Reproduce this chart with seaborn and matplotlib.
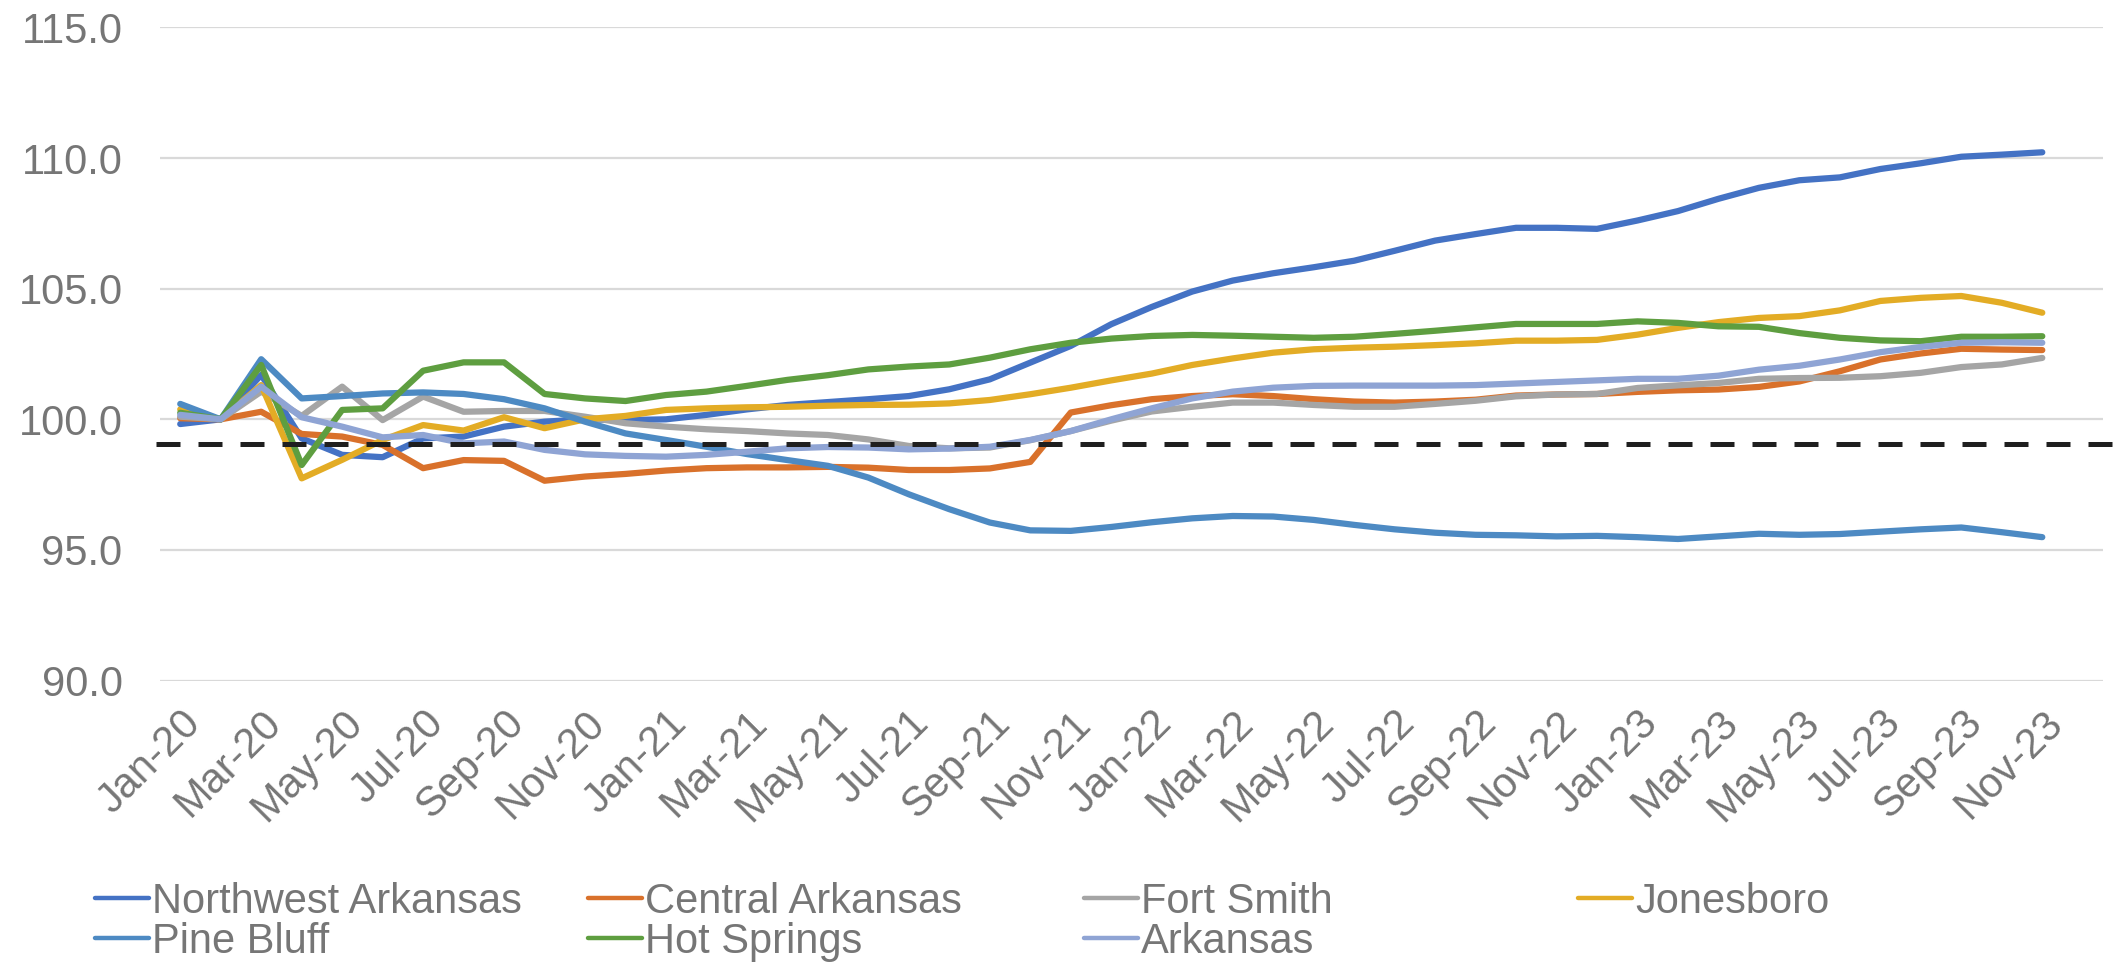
import numpy as np
import pandas as pd
import matplotlib
matplotlib.use("Agg")
import matplotlib.pyplot as plt
import seaborn as sns
from matplotlib.lines import Line2D

# ---------------- data ----------------
months = pd.date_range("2020-01-01", periods=47, freq="MS")
month_labels = [d.strftime("%b-%y") for d in months]

northwest_arkansas = [99.82, 100.0, 101.70, 99.27, 98.64, 98.55, 99.27, 99.34, 99.72, 99.91,
                      100.0, 99.97, 100.0, 100.17, 100.38, 100.55, 100.66, 100.77, 100.89, 101.15,
                      101.53, 102.17, 102.81, 103.64, 104.30, 104.89, 105.31, 105.59, 105.82, 106.07,
                      106.45, 106.84, 107.09, 107.33, 107.33, 107.29, 107.61, 107.97, 108.44, 108.86,
                      109.15, 109.26, 109.58, 109.80, 110.05, 110.13, 110.22]
central_arkansas = [100.04, 100.0, 100.29, 99.44, 99.34, 99.02, 98.13, 98.44, 98.41, 97.65,
                    97.81, 97.91, 98.04, 98.13, 98.16, 98.16, 98.18, 98.15, 98.06, 98.06,
                    98.12, 98.37, 100.26, 100.54, 100.77, 100.89, 100.96, 100.89, 100.77, 100.68,
                    100.64, 100.68, 100.75, 100.91, 100.95, 100.97, 101.05, 101.11, 101.14, 101.24,
                    101.45, 101.84, 102.29, 102.52, 102.70, 102.67, 102.65]
fort_smith = [100.10, 100.0, 101.06, 100.13, 101.25, 99.97, 100.87, 100.29, 100.32, 100.32,
              100.10, 99.85, 99.72, 99.62, 99.55, 99.46, 99.40, 99.23, 98.98, 98.89,
              98.92, 99.20, 99.55, 99.95, 100.30, 100.48, 100.64, 100.64, 100.55, 100.48,
              100.48, 100.59, 100.71, 100.88, 100.95, 100.97, 101.20, 101.30, 101.39, 101.55,
              101.58, 101.59, 101.65, 101.78, 102.00, 102.10, 102.35]
jonesboro = [100.38, 100.0, 101.31, 97.74, 98.45, 99.21, 99.78, 99.57, 100.08, 99.66,
             100.0, 100.13, 100.36, 100.42, 100.46, 100.48, 100.52, 100.55, 100.56, 100.61,
             100.74, 100.96, 101.21, 101.49, 101.75, 102.08, 102.33, 102.55, 102.68, 102.74,
             102.78, 102.84, 102.91, 103.01, 103.01, 103.04, 103.24, 103.50, 103.72, 103.88,
             103.95, 104.17, 104.53, 104.65, 104.72, 104.46, 104.08]
pine_bluff = [100.59, 100.0, 102.30, 100.80, 100.89, 100.99, 101.03, 100.97, 100.77, 100.42,
              99.91, 99.46, 99.21, 98.95, 98.67, 98.44, 98.22, 97.77, 97.13, 96.56,
              96.05, 95.75, 95.73, 95.88, 96.06, 96.21, 96.30, 96.28, 96.15, 95.96,
              95.79, 95.66, 95.58, 95.56, 95.52, 95.54, 95.49, 95.42, 95.52, 95.62,
              95.58, 95.61, 95.70, 95.79, 95.86, 95.68, 95.49]
hot_springs = [100.25, 100.0, 102.08, 98.25, 100.36, 100.42, 101.86, 102.18, 102.18, 100.97,
               100.80, 100.70, 100.93, 101.06, 101.28, 101.51, 101.69, 101.91, 102.02, 102.10,
               102.36, 102.68, 102.93, 103.09, 103.19, 103.23, 103.20, 103.16, 103.12, 103.16,
               103.27, 103.39, 103.52, 103.65, 103.65, 103.65, 103.75, 103.69, 103.56, 103.54,
               103.30, 103.12, 103.02, 102.99, 103.16, 103.16, 103.18]
arkansas = [100.17, 100.0, 101.25, 100.08, 99.72, 99.31, 99.40, 99.08, 99.15, 98.83,
            98.66, 98.60, 98.57, 98.64, 98.76, 98.89, 98.94, 98.92, 98.85, 98.88,
            98.95, 99.21, 99.55, 100.0, 100.42, 100.80, 101.06, 101.21, 101.28, 101.29,
            101.29, 101.29, 101.31, 101.37, 101.43, 101.49, 101.55, 101.55, 101.67, 101.90,
            102.05, 102.29, 102.57, 102.77, 102.93, 102.95, 102.93]
reference_level = 99.07

series_names = ["Northwest Arkansas", "Central Arkansas", "Fort Smith", "Jonesboro",
                "Pine Bluff", "Hot Springs", "Arkansas"]
series_values = [northwest_arkansas, central_arkansas, fort_smith, jonesboro,
                 pine_bluff, hot_springs, arkansas]
colors = ["#4472C4", "#D9712B", "#A5A5A5", "#E3AC25", "#4D8AC3", "#5E9E40", "#8FA4D4"]

rows = []
for name, vals in zip(series_names, series_values):
    for i, v in enumerate(vals):
        rows.append({"idx": i, "value": v, "series": name})
df = pd.DataFrame(rows)

# ---------------- style ----------------
sns.set_theme(style="white")
plt.rcParams["font.family"] = ["Liberation Sans", "DejaVu Sans"]
text_color = "#767676"
LW = 4.5

W, H = 2113, 973
fig = plt.figure(figsize=(W / 100, H / 100), dpi=100)
ax = fig.add_axes([160 / W, 1 - 680.6 / H, (2103 - 160) / W, (680.6 - 27.4) / H])

sns.lineplot(data=df, x="idx", y="value", hue="series", hue_order=series_names,
             palette=colors, ax=ax, legend=False, sort=False, linewidth=LW)
for ln in ax.lines:
    ln.set_linewidth(LW)
    ln.set_solid_capstyle("round")
    ln.set_solid_joinstyle("round")

ax.set_xlim(-0.5, 47.5)
ax.set_ylim(90, 115)
yt = np.arange(90, 115.1, 5)
ax.set_yticks(yt)
ax.set_yticklabels([f"{v:.1f}" for v in yt])
tick_pos = list(range(0, 47, 2))
ax.set_xticks(tick_pos)
ax.set_xticklabels([month_labels[i] for i in tick_pos], rotation=45, ha="right",
                   rotation_mode="anchor")
ax.grid(axis="y", color="#D9D9D9", linewidth=1.6)
ax.grid(axis="x", visible=False)
for s in ax.spines.values():
    s.set_visible(False)
ax.tick_params(axis="y", length=0, pad=27, labelsize=30, labelcolor=text_color)
ax.tick_params(axis="x", length=0, pad=16, labelsize=30, labelcolor=text_color)
ax.set_xlabel("")
ax.set_ylabel("")

# dashed reference line (extends slightly beyond the plot area)
ax.plot([-0.002, 1.01], [reference_level, reference_level], transform=ax.get_yaxis_transform(),
        color="#1F1F1F", linewidth=3.6, linestyle=(0, (4.8, 3.6)), clip_on=False, zorder=5)

# legend: 4 columns laid out like the reference
handles = {n: Line2D([], [], color=c, linewidth=3.2, solid_capstyle="round")
           for n, c in zip(series_names, colors)}
columns = [["Northwest Arkansas", "Pine Bluff"], ["Central Arkansas", "Hot Springs"],
           ["Fort Smith", "Arkansas"], ["Jonesboro"]]
col_x = [95, 588, 1084, 1578]
for cx, names in zip(col_x, columns):
    fig.legend([handles[n] for n in names], names, loc="upper left",
               bbox_to_anchor=(cx / W, 1 - 882 / H), frameon=False, fontsize=30,
               handlelength=1.3, handletextpad=0.07, labelspacing=0.0,
               borderpad=0, borderaxespad=0, labelcolor=text_color)

fig.savefig("out.png", dpi=100)
